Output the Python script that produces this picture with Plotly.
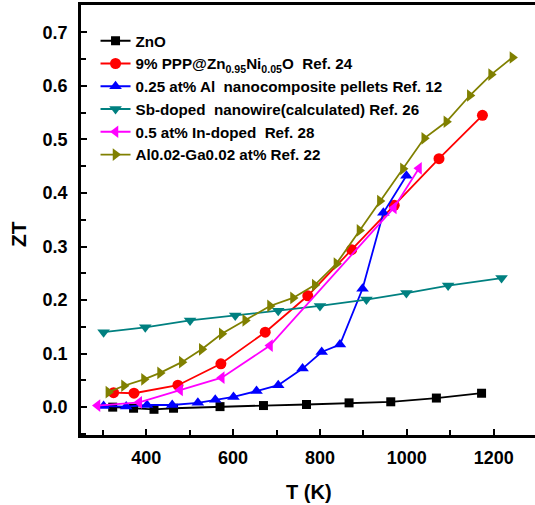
import plotly.graph_objects as go

# ---- data ----
znO_T = [323, 371, 418, 463, 570, 670, 769, 867, 963, 1068, 1172]
znO_ZT = [0.0, -0.002, -0.004, -0.002, 0.001, 0.003, 0.005, 0.008, 0.010, 0.017, 0.026]

ppp_T = [325, 372, 473, 572, 674, 772, 873, 971, 1074, 1174]
ppp_ZT = [0.027, 0.026, 0.041, 0.081, 0.140, 0.208, 0.294, 0.377, 0.464, 0.545]

al_T = [302, 354, 402, 460, 519, 559, 601, 654, 704, 760, 804, 846, 898, 946, 999]
al_ZT = [0.002, 0.001, 0.004, 0.004, 0.008, 0.014, 0.019, 0.030, 0.041, 0.072,
         0.103, 0.117, 0.221, 0.363, 0.432]

sb_T = [302, 398, 501, 605, 704, 800, 907, 999, 1095, 1218]
sb_ZT = [0.140, 0.149, 0.162, 0.171, 0.180, 0.189, 0.201, 0.213, 0.227, 0.241]

in_T = [288, 384, 478, 574, 685, 970, 1028]
in_ZT = [0.003, 0.009, 0.032, 0.055, 0.115, 0.372, 0.446]

alga_T = [313, 349, 395, 432, 482, 528, 574, 628, 685, 738, 788, 838, 891, 938,
          991, 1040, 1091, 1145, 1194, 1243]
alga_ZT = [0.028, 0.040, 0.052, 0.064, 0.084, 0.108, 0.137, 0.162, 0.189, 0.204,
           0.228, 0.268, 0.330, 0.385, 0.445, 0.502, 0.533, 0.582, 0.621, 0.653]

names = [
    "ZnO",
    "9% PPP@Zn<sub>0.95</sub>Ni<sub>0.05</sub>O  Ref. 24",
    "0.25 at% Al  nanocomposite pellets Ref. 12",
    "Sb-doped  nanowire(calculated) Ref. 26",
    "0.5 at% In-doped  Ref. 28",
    "Al0.02-Ga0.02 at% Ref. 22",
]
series = [(znO_T, znO_ZT), (ppp_T, ppp_ZT), (al_T, al_ZT), (sb_T, sb_ZT),
          (in_T, in_ZT), (alga_T, alga_ZT)]
colors = ["#000000", "#FF0000", "#0000FF", "#008080", "#FF00FF", "#808000"]
symbols = ["square", "circle", "triangle-up", "triangle-down", "triangle-left", "triangle-right"]
sizes = [9, 11, 11, 11, 11, 11]

fig = go.Figure()
for (x, y), n, c, s, sz in zip(series, names, colors, symbols, sizes):
    fig.add_trace(go.Scatter(x=x, y=y, name=n, mode="lines+markers",
                             line=dict(color=c, width=1.8),
                             marker=dict(color=c, symbol=s, size=sz)))

axis_font = dict(family="Liberation Sans, Arial, sans-serif", size=18, color="black")
fig.update_layout(
    width=535, height=505,
    margin=dict(l=81, r=0, t=5, b=70),
    paper_bgcolor="white", plot_bgcolor="white",
    showlegend=True,
    legend=dict(x=0.032, y=0.955, xanchor="left", yanchor="top",
                bgcolor="rgba(0,0,0,0)",
                font=dict(family="Liberation Sans Narrow, Arial Narrow, Liberation Sans, sans-serif",
                          size=15.2, color="black", weight="bold"),
                tracegroupgap=0, itemwidth=30),
    xaxis=dict(range=[250, 1295], tickvals=[400, 600, 800, 1000, 1200],
               ticks="inside", ticklen=6, tickwidth=2, tickcolor="black",
               minor=dict(dtick=100, tick0=0, ticks="inside", ticklen=5, tickwidth=2, tickcolor="black"),
               showline=True, linewidth=2.5, linecolor="black", mirror=True,
               showgrid=False, zeroline=False,
               tickfont=dict(axis_font, weight="bold"), ticklabelstandoff=5),
    yaxis=dict(range=[-0.052, 0.751], tickvals=[0, 0.1, 0.2, 0.3, 0.4, 0.5, 0.6, 0.7],
               tickformat=".1f",
               ticks="inside", ticklen=6, tickwidth=2, tickcolor="black",
               minor=dict(dtick=0.05, tick0=0, ticks="inside", ticklen=5, tickwidth=2, tickcolor="black"),
               showline=True, linewidth=2.5, linecolor="black", mirror=False,
               showgrid=False, zeroline=False,
               tickfont=dict(axis_font, weight="bold"), ticklabelstandoff=7),
    annotations=[
        dict(text="T (K)", xref="paper", yref="paper", x=(309 - 81) / 454, y=-57 / 430,
             xanchor="center", yanchor="middle", showarrow=False,
             font=dict(family="Liberation Sans, Arial, sans-serif", size=20, color="black", weight="bold")),
        dict(text="ZT", xref="paper", yref="paper", x=(18 - 81) / 454, y=(435 - 234) / 430,
             xanchor="center", yanchor="middle", showarrow=False, textangle=-90,
             font=dict(family="Liberation Sans, Arial, sans-serif", size=21, color="black", weight="bold")),
    ],
)

fig.write_html("out.html")
